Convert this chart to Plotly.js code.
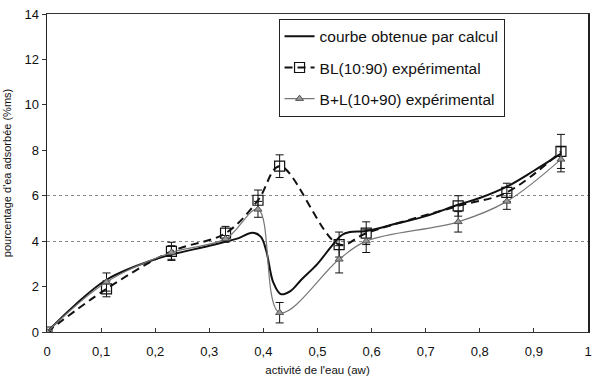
<!DOCTYPE html>
<html>
<head>
<meta charset="utf-8">
<script src="https://cdn.plot.ly/plotly-3.0.1.min.js"></script>
<style>html,body{margin:0;padding:0;background:#fff;}#chart{width:594px;height:377px;}</style>
</head>
<body>
<div id="chart"></div>
<script>
// Calculated curve
const calcX = [0, 0.05, 0.11, 0.2, 0.3, 0.35, 0.38, 0.395, 0.405, 0.418, 0.432, 0.45, 0.47, 0.5, 0.525, 0.545, 0.56, 0.59, 0.65, 0.7, 0.76, 0.8, 0.85, 0.9, 0.95];
const calcY = [0, 1.15, 2.3, 3.2, 3.8, 4.1, 4.37, 4.2, 3.6, 2.2, 1.67, 1.8, 2.3, 3.0, 3.75, 4.27, 4.4, 4.45, 4.8, 5.1, 5.6, 5.9, 6.4, 7.1, 7.85];

// Experimental points
const aw = [0, 0.11, 0.23, 0.33, 0.39, 0.43, 0.54, 0.59, 0.76, 0.85, 0.95];
const blY = [0, 1.9, 3.55, 4.35, 5.8, 7.3, 3.85, 4.35, 5.55, 6.15, 7.95];
const blErr = [0, 0.35, 0.4, 0.3, 0.45, 0.5, 0.55, 0.5, 0.45, 0.4, 0.75];
const blpY = [0, 2.2, 3.5, 4.1, 5.4, 0.85, 3.2, 4.0, 4.85, 5.75, 7.6];
const blpErr = [0, 0.4, 0.3, 0.15, 0.35, 0.45, 0.6, 0.5, 0.45, 0.35, 0.55];

const xTicks = [0, 0.1, 0.2, 0.3, 0.4, 0.5, 0.6, 0.7, 0.8, 0.9, 1];
const yTicks = [0, 2, 4, 6, 8, 10, 12, 14];
const gridY = [4, 6];

const traces = [
  {
    x: calcX, y: calcY, type: 'scatter', mode: 'lines',
    name: 'courbe obtenue par calcul', legendgroup: 'a',
    line: {color: '#111', width: 2, shape: 'spline', smoothing: 1}
  },
  {
    x: aw, y: blY, type: 'scatter', mode: 'lines+markers',
    name: 'BL(10:90) expérimental', legendgroup: 'b',
    line: {color: '#111', width: 2, dash: '8px,5px', shape: 'spline', smoothing: 1},
    marker: {symbol: 'square-open', size: 10, color: '#111', line: {width: 1.2}},
    error_y: {type: 'data', array: blErr, visible: true, color: '#111', thickness: 1, width: 4}
  },
  {
    x: aw, y: blpY, type: 'scatter', mode: 'lines+markers',
    name: 'B+L(10+90) expérimental', legendgroup: 'c',
    line: {color: '#777', width: 1.2, shape: 'spline', smoothing: 1},
    marker: {symbol: 'triangle-up', size: 7, color: '#999', line: {color: '#555', width: 1}},
    error_y: {type: 'data', array: blpErr, visible: true, color: '#111', thickness: 1, width: 4}
  },
  // invisible helper trace for the dotted reference gridlines
  {
    x: [0], y: [0], type: 'scatter', mode: 'markers', yaxis: 'y2',
    marker: {opacity: 0}, showlegend: false, hoverinfo: 'skip'
  }
];

const font = {family: 'Liberation Sans, Arial, sans-serif', color: '#111'};

const layout = {
  width: 594, height: 377,
  margin: {l: 47, r: 6, t: 14, b: 45},
  paper_bgcolor: '#fff', plot_bgcolor: '#fff',
  separators: ', ',
  font: Object.assign({size: 12}, font),
  showlegend: true,
  legend: {
    x: 0.428, y: 0.985, xanchor: 'left', yanchor: 'top',
    bordercolor: '#222', borderwidth: 1, bgcolor: '#fff',
    font: Object.assign({size: 15.5}, font),
    traceorder: 'grouped', tracegroupgap: 8,
    itemwidth: 30
  },
  xaxis: {
    range: [0, 1], tickvals: xTicks, ticks: 'inside', ticklen: 4, tickcolor: '#333',
    showgrid: false, zeroline: false,
    showline: true, linecolor: '#333', linewidth: 1, mirror: true,
    ticklabeloverflow: 'allow', ticklabelstandoff: 7,
    tickfont: Object.assign({size: 13}, font),
    title: {text: "activité de l'eau (aw)", font: Object.assign({size: 11.5}, font), standoff: 8}
  },
  yaxis: {
    range: [0, 14], tickvals: yTicks, ticks: 'outside', ticklen: 4, tickcolor: '#333',
    showgrid: false, zeroline: false,
    showline: true, linecolor: '#222', linewidth: 1.5, mirror: true,
    tickfont: Object.assign({size: 13}, font),
    title: {text: "pourcentage d'ea adsorbée (%ms)", font: Object.assign({size: 11}, font), standoff: 10}
  },
  yaxis2: {
    range: [0, 14], overlaying: 'y', tickvals: gridY, showticklabels: false, ticks: '',
    showgrid: true, gridcolor: '#888', griddash: 'dot', gridwidth: 1,
    zeroline: false, showline: false
  }
};

Plotly.newPlot('chart', traces, layout, {displayModeBar: false, staticPlot: true});
</script>
</body>
</html>
